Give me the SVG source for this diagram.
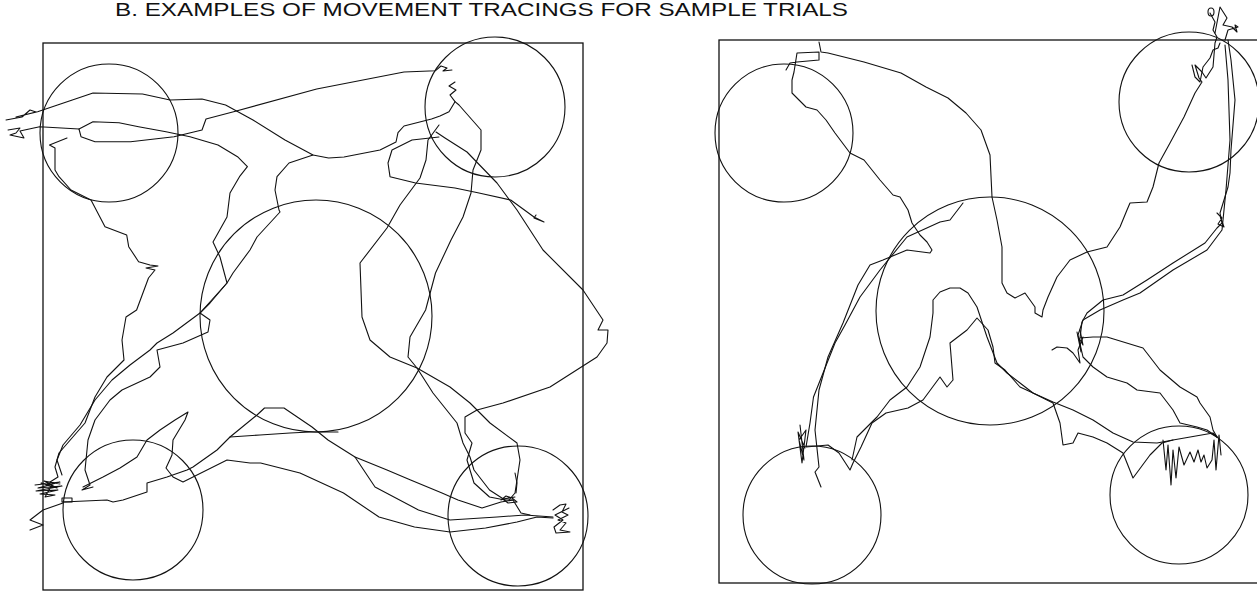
<svg xmlns="http://www.w3.org/2000/svg" width="1257" height="591" viewBox="0 0 1257 591">
<style>
.bg{fill:#fff}
.title{font-family:"Liberation Sans",Arial,sans-serif;font-size:19px;fill:#111}
.box{fill:none;stroke:#111;stroke-width:1.3}
.zone{fill:none;stroke:#111;stroke-width:1.1}
.tr{fill:none;stroke:#111;stroke-width:1.1;stroke-linejoin:round;stroke-linecap:round}
</style>
<rect class="bg" x="0" y="0" width="1257" height="591"/>
<g id="title">
<text class="title" x="115" y="16" textLength="733" lengthAdjust="spacingAndGlyphs">B. EXAMPLES OF MOVEMENT TRACINGS FOR SAMPLE TRIALS</text>
</g>
<g id="left-panel">
<rect class="box" x="43" y="43" width="540" height="547"/>
<g id="left-zones">
<circle class="zone" cx="109" cy="133" r="69"/>
<circle class="zone" cx="495" cy="107" r="70"/>
<circle class="zone" cx="316" cy="316" r="116"/>
<circle class="zone" cx="133" cy="510" r="70"/>
<circle class="zone" cx="518" cy="516" r="70"/>
</g>
<g id="left-traces">
<polyline class="tr" points="6,120 22,117 30,110 36,112 24,115 16,117 37.6,111.7 93,93 142.5,94 170,100 202,99 225.6,105 253,120 285,140 313,155 328.6,158 344,157 380,150 396,142 398,132.7 404,126 431.5,119 440,116 449,111.7 455,101.7 450,95 456,90 449,86 455,82"/>
<polyline class="tr" points="8,130 20,128 16,133 10,135 24,138 20,131 39.6,126.7 79,129 81,136.7 95,141.7 130.6,141.7 174,136.7 202,130 206,119 233.6,111.7 316.7,89 404,72 435.5,70.7 441,66 447,68 443,71 452,70"/>
<polyline class="tr" points="67,138 49.5,145 55,148 55,170 59,176.7 71,190 91,200 105,226.7 126.7,235 128.7,246.7 138.6,261.7 150,265 158,266 146,268 155,270 148.5,278 136.6,310 126,317 122,340 124,360 107,377 95,397 85,423 59,453 55,467 58,477 50,482"/>
<polyline class="tr" points="79,129 93,121.7 119,122.7 138.6,126.7 166,131.7 190,136.7 218,145 237.5,156.7 247.4,166.7 239.5,176.7 230,193 227,217 213,242 220,257 227,283 200,313 210,320 208,332 183,343 157,350 160,367 150,377 122,390 110,400 95,420 88,440 85,470 90,485 82,490 93,487"/>
<polyline class="tr" points="313,155 289,163 277,176.7 275,190 279,210 280,212 257,237 250,250 233,273 227,283 210,303 200,313 173,333 157,343 150,350 130,365 112,380 95,400 80,425 63,445 57,460 62,475"/>
<polyline class="tr" points="455,101.7 459,105 481,130 481,150 473,170 471,193 463,217 451,240 435.5,273 425.6,310 410,337 408,357 417,368 433,393 457,423 463,443 470,457 474,470 489.5,490 505,500 513,500 521,513 530,515"/>
<polyline class="tr" points="439,125 428,140 426,160 420,178 400,205 387,228 360,263 362,317 370,340 390,357 417,368 450,387 470,403 490,423 517,443 520,460 517,480 515,493 509,500"/>
<polyline class="tr" points="436,132 445,138 467,152 497,183 517,210 543,250 583,290 603,320 598,330 608,330 607,343 597,357 550,387 503,403 477,410 465,417 465,433 472,443 467,460 470,470 474,483 489.5,497 505,500"/>
<polyline class="tr" points="439,137 412,140 392,150 388,163 390,176.7 415.6,183 455,188 479,193 510.7,200 534,217 544,222 534,218 536,215"/>
<polyline class="tr" points="63,502 107,500 113,502 123,500 147,492 147,483 167,477 187,470 193,467 217,450 230,437 257,415 264.5,408 284,408 312,427 328,440 355,457 387,470 410.6,480 442,493 458,500 482,508 501,502 513,500"/>
<polyline class="tr" points="230,437 260,435 290,433 310,432 338,432"/>
<polyline class="tr" points="83,487 103,477 120,468 137,457 147,440 160,430 175,420 188,412 185,420 173,440 172,455 166,468 173,477 183,482 193,477 227,460 250,463 260.6,463 300,473 343.5,493 379,517 414.5,527 450,532 485.6,528 517,522 537,517 553,518"/>
<polyline class="tr" points="355,457 375,487 418.5,510 450,520 497,517 525,515 553,517"/>
<polyline class="tr" points="553,510 560,505 566,504 562,512 568,515 558,520 566,523 560,530 570,532 556,533 554,527 563,520 555,515 569,508"/>
<polyline class="tr" points="501,500 506,496 512,498 517,502 508,503 503,499 515,497"/>
<polyline class="tr" points="515,473 517,483 516,493"/>
<polyline class="tr" points="35,485 60,482 38,488 62,486 36,491 58,490 40,494 55,495 45,497 52,485 41,483 57,488 44,481 60,484"/>
<polyline class="tr" points="63,503 43,510 30,520 43,525 30,530"/>
<rect class="tr" x="62" y="498" width="10" height="4"/>
</g>
</g>
<g id="right-panel">
<rect class="box" x="719" y="40" width="545" height="543"/>
<g id="right-zones">
<circle class="zone" cx="784" cy="133" r="69"/>
<circle class="zone" cx="1189" cy="102" r="70"/>
<circle class="zone" cx="990" cy="311" r="114"/>
<circle class="zone" cx="812" cy="515" r="69"/>
<circle class="zone" cx="1179" cy="495" r="69"/>
</g>
<g id="right-traces">
<polyline class="tr" points="819,42 821,52 828,53 864,62 901,73 926,87 948,98 966,113 981,130 990,155 992,197 997,220 1002,247 1002,267 1002,283 1007,293 1015,298 1025,293 1030,300 1035,307 1035,313 1042,317 1043,310 1048,297 1057,277 1070,260 1087,252 1107,247 1120,227 1127,210 1130,203 1147,202 1153,187 1159,163 1170,143 1184,117 1195,93 1202,82 1199,78 1195,65 1202,72 1206,78 1213,67 1215,43 1217,37 1213,30 1215,22 1210,13"/>
<ellipse class="tr" cx="1211" cy="12" rx="3" ry="4"/>
<polyline class="tr" points="1215,33 1220,7 1227,18 1223,25 1232,27 1237,32 1235,25 1238,27 1228,30 1225,40"/>
<polyline class="tr" points="786,70 790,63 797,62 819,60 819,52 797,53 794,72 792,80 792,93 799,100 806,107 817,110 826,120 835,133 850,153 864,160 872,170 880,180 893,195 900,197 908,210 912,223 920,235 927,242 932,250 930,253 907,250 883,260 870,265 858,285 843,323 828,357 819,390 815,430 819,467 815,472 821,487"/>
<polyline class="tr" points="963,203 950,220 940,222 907,237 880,270 860,297 845,325 835,343 813.5,397 810,423 806,447 828,445 839,453 850,470 853,463 861,447 872,423 886,413 908,408 923,400 940,377 947,387 953,380 950,343 967,330 977,318 988,330 993,347 995,363 1005,370 1020,387 1033,393 1047,400 1053,403 1060,423 1063,445 1073,443 1078,433 1093,437 1107,443 1123,453 1133,478 1150,455 1162,443 1173,440"/>
<polyline class="tr" points="852,460 857,437 877,417 890,400 907,387 920,367 930,337 933,313 933,300 940,292 950,288 960,288 968,293 977,307 987,337 997,363 1007,373 1020,383 1033,393 1053,402 1073,410 1093,420 1113,433 1133,442 1157,443 1173,440 1213,433 1217,437"/>
<polyline class="tr" points="1228,40 1231,60 1235,100 1231,150 1230,173 1228,187 1220,213 1222,223 1217,228 1205,243 1173,263 1147,280 1123,295 1103,300 1087,313 1082,322 1080,338 1093,337 1107,337 1143,348 1160,370 1180,387 1197,397 1200,403 1210,417 1213,430 1217,437"/>
<polyline class="tr" points="1225,45 1228,80 1230,140 1226,190 1222,230 1207,250 1173,270 1140,293 1123,300 1100,310 1083,320 1078,335 1083,357 1093,367 1107,377 1127,383 1137,390 1160,393 1173,410 1180,423 1197,427 1207,430 1217,437"/>
<polyline class="tr" points="1052,350 1057,347 1067,348 1073,353 1080,363 1078,350 1083,337"/>
<polyline class="tr" points="1077,332 1081,352 1079,338 1083,345 1080,330"/>
<polyline class="tr" points="1217,213 1222,218 1218,224 1224,227 1220,216"/>
<polyline class="tr" points="1192,65 1195,77 1200,82 1203,67 1210,58 1213,50 1218,48 1220,43"/>
<polyline class="tr" points="1163,440 1166,470 1168,445 1171,485 1173,450 1176,478 1179,447 1184,465 1190,452 1194,462 1198,450 1201,462 1204,455 1207,468 1212,460 1214,440 1216,470 1219,435 1221,455"/>
<polyline class="tr" points="800,425 804,460 799,440 806,430 802,463 798,432 805,448"/>
</g>
</g>
</svg>
